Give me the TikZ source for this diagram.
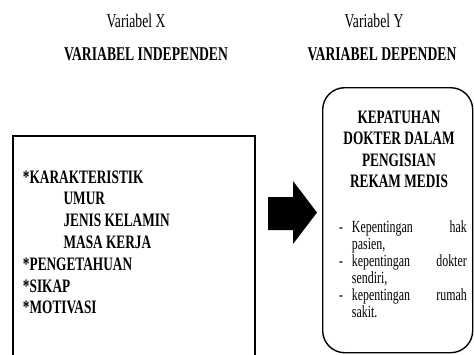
\documentclass[tikz,border=0pt]{standalone}
\usepackage{fontspec}
\setmainfont{Liberation Serif}
\newcommand\sqz[1]{\scalebox{0.7}[1]{#1}}
\begin{document}
\begin{tikzpicture}[x=1pt,y=-1pt,
  txt/.style={inner sep=0pt, outer sep=0pt},
  frame/.style={draw=black, line width=1.6pt, inner sep=0pt},
  blockarrow/.style={fill=black, draw=none}]
\useasboundingbox (0,0) rectangle (474,354);
\clip (0,0) rectangle (474,354);
\fill[white] (0,0) rectangle (474,354);
% headings
\node[txt, anchor=base] (vx) at (136,27) {\fontsize{19.5}{22}\selectfont\sqz{Variabel X}};
\node[txt, anchor=base] (vi) at (146,60) {\fontsize{19.5}{22}\selectfont\sqz{\textbf{VARIABEL INDEPENDEN}}};
\node[txt, anchor=base] (vy) at (374,27) {\fontsize{19.5}{22}\selectfont\sqz{Variabel Y}};
\node[txt, anchor=base] (vd) at (382,60) {\fontsize{19.5}{22}\selectfont\sqz{\textbf{VARIABEL DEPENDEN}}};
% left box
\node[frame, minimum width=242pt, minimum height=240pt, anchor=north west] (indep) at (12,135) {};
\node[txt, anchor=base west] (indeptext) at (23,183) {\fontsize{19}{21.8}\selectfont\sqz{\bfseries
  \begin{tabular}[t]{@{}l@{}}
  {*}KARAKTERISTIK\\
  \hspace*{58pt}UMUR\\
  \hspace*{58pt}JENIS KELAMIN\\
  \hspace*{58pt}MASA KERJA\\
  {*}PENGETAHUAN\\
  {*}SIKAP\\
  {*}MOTIVASI
  \end{tabular}}};
% right box
\node[frame, line width=1.4pt, rounded corners=22pt, minimum width=150pt, minimum height=265pt, anchor=north west] (dep) at (322,87) {};
\node[txt, anchor=base] (deptitle) at (399,123) {\fontsize{19}{21.5}\selectfont\sqz{\bfseries
  \begin{tabular}[t]{@{}c@{}}
  KEPATUHAN\\
  DOKTER DALAM\\
  PENGISIAN\\
  REKAM MEDIS
  \end{tabular}}};
\node[txt, anchor=base west] (deplist) at (339,232) {\fontsize{17}{17}\selectfont\sqz{%
  \begin{tabular}[t]{@{}l@{}l@{}}
  \makebox[18.5pt][l]{-} & \makebox[164pt][s]{Kepentingan\hfill hak}\\
   & pasien,\\
  \makebox[18.5pt][l]{-} & \makebox[164pt][s]{kepentingan\hfill dokter}\\
   & sendiri,\\
  \makebox[18.5pt][l]{-} & \makebox[164pt][s]{kepentingan\hfill rumah}\\
   & sakit.
  \end{tabular}}};
% block arrow
\coordinate (tail) at (268,213.5);
\coordinate (tip) at (317,212.5);
\fill[blockarrow] (268,197) -- (293,197) -- (293,181) -- (tip) -- (293,244) -- (293,230) -- (268,230) -- cycle;
\end{tikzpicture}
\end{document}
